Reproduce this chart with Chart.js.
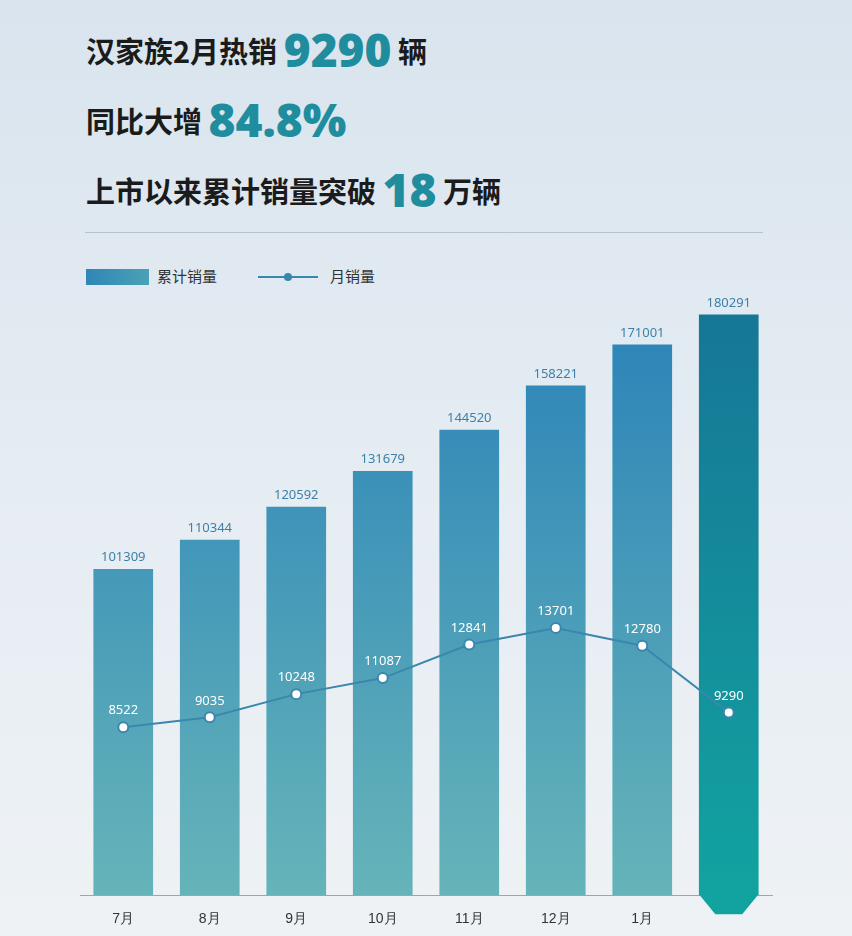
<!DOCTYPE html>
<html><head><meta charset="utf-8">
<script src="https://cdn.jsdelivr.net/npm/chart.js@4"></script>
<style>
body{margin:0;width:852px;height:936px;overflow:hidden;font-family:"Noto Sans CJK SC",sans-serif;
background:linear-gradient(180deg,#d9e4ee 0%,#e3ebf2 40%,#eef2f5 100%);position:relative}
.t{position:absolute;left:86px;font-weight:bold;color:#1b1b1b;font-size:29px;white-space:nowrap}
.t b{color:#1f8d9e;font-family:"Noto Sans",sans-serif;font-size:46px;vertical-align:-4px}
#sep{position:absolute;left:85px;top:232px;width:678px;height:1px;background:#b8c2cc}
.lg{position:absolute;top:265px;font-size:15px;color:#333}
canvas{position:absolute;left:0;top:0}
</style></head><body>
<div class="t" style="top:18px">汉家族2月热销 <b>9290</b> 辆</div>
<div class="t" style="top:88px">同比大增 <b>84.8%</b></div>
<div class="t" style="top:158px">上市以来累计销量突破 <b>18</b> 万辆</div>
<div id="sep"></div>
<div class="lg" style="left:86px"><span style="display:inline-block;width:63px;height:16px;background:linear-gradient(90deg,#2f86b6,#4aa2b6);vertical-align:-3px;margin-right:8px"></span>累计销量</div>
<div class="lg" style="left:258px"><span style="display:inline-block;width:60px;height:2px;background:#3a87ae;vertical-align:4px;margin-right:12px;position:relative"><i style="position:absolute;left:26px;top:-3px;width:8px;height:8px;border-radius:50%;background:#3a87ae"></i></span>月销量</div>
<canvas id="c" width="852" height="936"></canvas>
<script>
const categories = ['7月','8月','9月','10月','11月','12月','1月','2月'];
const cumulative = [101309,110344,120592,131679,144520,158221,171001,180291];
const monthly = [8522,9035,10248,11087,12841,13701,12780,9290];

const labels = {
  id:'labels',
  afterDatasetsDraw(chart){
    const c = chart.ctx;
    c.save();
    c.textAlign='center';
    c.font='13px "Noto Sans", sans-serif';
    c.fillStyle='#3d80a8';
    c.textBaseline='bottom';
    chart.getDatasetMeta(0).data.forEach((b,i)=>c.fillText(cumulative[i],b.x,b.y-5));
    c.fillStyle='#ffffff';
    chart.getDatasetMeta(1).data.forEach((p,i)=>c.fillText(monthly[i],p.x,p.y-10));
    c.restore();
  }
};
const chevron = {
  id:'chevron',
  beforeDatasetsDraw(chart){
    const b = chart.getDatasetMeta(0).data[7];
    const c = chart.ctx, h=b.width/2, y=chart.chartArea.bottom;
    c.save();
    c.fillStyle='#12a3a0';
    c.beginPath();
    c.moveTo(b.x-h,y-1);c.lineTo(b.x+h,y-1);c.lineTo(b.x+h*0.45,y+19);c.lineTo(b.x-h*0.45,y+19);c.closePath();
    c.fill();
    c.restore();
  }
};
function barGrad(ctx){
  const ch = ctx.chart, a = ch.chartArea;
  if(!a) return '#3a8fb8';
  const g = ch.ctx.createLinearGradient(0,a.top,0,a.bottom);
  if(ctx.dataIndex===7){g.addColorStop(0,'#167596');g.addColorStop(1,'#12a3a0');}
  else{g.addColorStop(0,'#2a82b8');g.addColorStop(1,'#66b4b9');}
  return g;
}
new Chart(document.getElementById('c'),{
  data:{labels:categories,datasets:[
    {type:'bar',data:cumulative,backgroundColor:barGrad,barPercentage:0.69,categoryPercentage:1,yAxisID:'y',order:2},
    {type:'line',data:monthly,borderColor:'#3a87ae',borderWidth:2,pointRadius:5,pointBackgroundColor:'#ffffff',
     pointBorderColor:'#3a87ae',pointBorderWidth:2,tension:0,yAxisID:'y2',order:1}
  ]},
  options:{responsive:false,animation:false,
    layout:{padding:{left:80,right:80,top:300,bottom:0}},
    plugins:{legend:{display:false},tooltip:{enabled:false}},
    scales:{
      x:{grid:{display:false},border:{display:true,color:'#9aa6b0'},
        ticks:{color:'#333',font:{size:14},padding:8,callback:(v,i)=>i===7?'':categories[i]}},
      y:{display:false,min:0,max:184800},
      y2:{display:false,min:-265,max:30855}
    }
  },
  plugins:[chevron,labels]
});
</script>
</body></html>
